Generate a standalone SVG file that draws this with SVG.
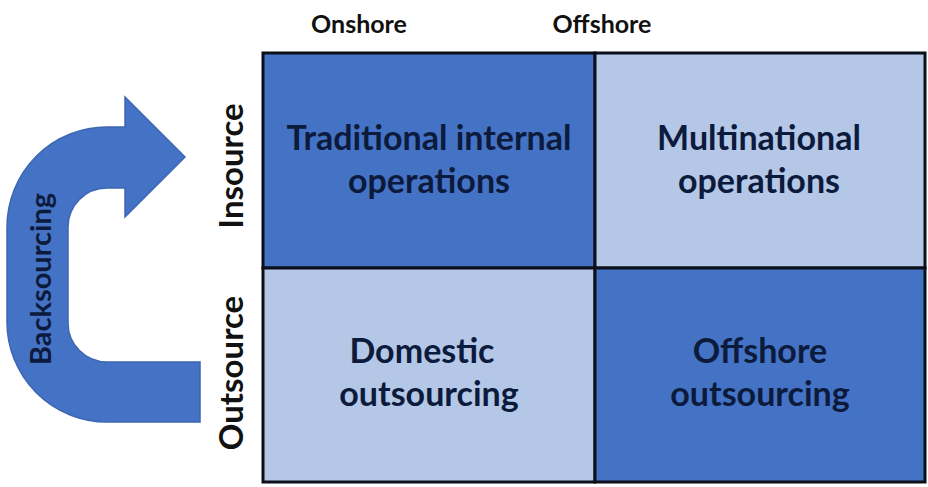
<svg xmlns="http://www.w3.org/2000/svg" width="928" height="487" viewBox="0 0 928 487">
<style>
.dark{fill:#4472C4;}
.light{fill:#B4C7E7;}
.cell{stroke:#0b0f1a;stroke-width:3;}
.ct{font-family:Lato,"Open Sans",sans-serif;font-weight:bold;font-size:34px;fill:#0c1a3c;text-anchor:middle;}
.bk{font-size:29px;}
.hd{font-family:Lato,"Open Sans",sans-serif;font-weight:bold;font-size:25px;fill:#111;text-anchor:middle;}
.rl{font-size:33px;}
</style>
<rect width="928" height="487" fill="#fff"/>
<g id="arrow">
<path class="dark" stroke="#3d67b3" stroke-width="1.5" d="M200,362 L107,362 A39,39 0 0 1 68,323 L68,227 A39,39 0 0 1 107,188 L125,188 L125,217 L185,157 L125,97 L125,127 L107,127 A100,100 0 0 0 7,227 L7,322 A100,100 0 0 0 107,422 L200,422 Z"/>
<text class="ct bk" transform="translate(51,279) rotate(-90)">Backsourcing</text>
</g>
<g id="header-onshore"><text class="hd" x="359" y="33">Onshore</text></g>
<g id="header-offshore"><text class="hd" x="602" y="33">Offshore</text></g>
<g id="label-insource"><text class="hd rl" transform="translate(243,166) rotate(-90)">Insource</text></g>
<g id="label-outsource"><text class="hd rl" transform="translate(243,373) rotate(-90)">Outsource</text></g>
<g id="cell-traditional">
<rect class="dark cell" x="263" y="53" width="332" height="215"/>
<text class="ct" x="429" y="150">Traditional internal</text>
<text class="ct" x="429" y="193">operations</text>
</g>
<g id="cell-multinational">
<rect class="light cell" x="595" y="53" width="330" height="215"/>
<text class="ct" x="759" y="150">Multinational</text>
<text class="ct" x="759" y="193">operations</text>
</g>
<g id="cell-domestic">
<rect class="light cell" x="263" y="268" width="332" height="214"/>
<text class="ct" x="422" y="363">Domestic</text>
<text class="ct" x="429" y="406">outsourcing</text>
</g>
<g id="cell-offshore">
<rect class="dark cell" x="595" y="268" width="330" height="214"/>
<text class="ct" x="760" y="363">Offshore</text>
<text class="ct" x="760" y="406">outsourcing</text>
</g>
</svg>
